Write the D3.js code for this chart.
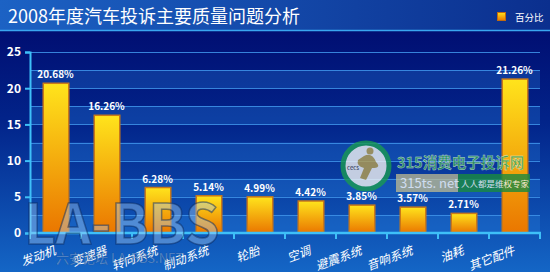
<!DOCTYPE html>
<html lang="zh">
<head>
    <meta charset="UTF-8">
    <title>2008年度汽车投诉主要质量问题分析</title>
    <script src="https://d3js.org/d3.v7.min.js"></script>
    <style>
        html, body { margin: 0; padding: 0; background: #0a3aa0; }
        svg { display: block; }
        text { font-family: "Noto Sans CJK SC", "DejaVu Sans", sans-serif; }
    </style>
</head>
<body>
<svg id="chart"></svg>
<script>
    // data
    const categories = ["发动机", "变速器", "转向系统", "制动系统", "轮胎", "空调",
        "避震系统", "音响系统", "油耗", "其它配件"];
    const percents = [20.68, 16.26, 6.28, 5.14, 4.99, 4.42, 3.85, 3.57, 2.71, 21.26];
    const yTicks = [0, 5, 10, 15, 20, 25];
    const title = "2008年度汽车投诉主要质量问题分析";
    const legendLabel = "百分比";

    const width = 550, height = 272;
    const svg = d3.select("#chart").attr("width", width).attr("height", height);
    const defs = svg.append("defs");

    // background gradient
    const bg = defs.append("linearGradient").attr("id", "bg")
        .attr("x1", 0).attr("y1", 0).attr("x2", 0).attr("y2", 1);
    bg.append("stop").attr("offset", "0%").attr("stop-color", "#00076a");
    bg.append("stop").attr("offset", "45%").attr("stop-color", "#02248a");
    bg.append("stop").attr("offset", "100%").attr("stop-color", "#1466c6");

    const head = defs.append("linearGradient").attr("id", "head")
        .attr("x1", 0).attr("y1", 0).attr("x2", 1).attr("y2", 0);
    head.append("stop").attr("offset", "0%").attr("stop-color", "#1c62c4");
    head.append("stop").attr("offset", "100%").attr("stop-color", "#0b2f8e");

    const barGrad = defs.append("linearGradient").attr("id", "bar")
        .attr("x1", 0).attr("y1", 0).attr("x2", 0).attr("y2", 1);
    barGrad.append("stop").attr("offset", "0%").attr("stop-color", "#ffe41c");
    barGrad.append("stop").attr("offset", "100%").attr("stop-color", "#ea7600");

    svg.append("rect").attr("width", width).attr("height", height).attr("fill", "url(#bg)");
    svg.append("rect").attr("width", width).attr("height", 30).attr("fill", "url(#head)");
    svg.append("line").attr("x1", 0).attr("x2", width).attr("y1", 30.5).attr("y2", 30.5)
        .attr("stroke", "#3aa6f0").attr("stroke-width", 1.5);

    svg.append("text").attr("x", 8).attr("y", 23)
        .attr("fill", "#fff").attr("font-size", 18).text(title);

    // legend
    svg.append("rect").attr("x", 497.5).attr("y", 12.5).attr("width", 8).attr("height", 8)
        .attr("fill", "url(#bar)").attr("stroke", "#c06a10");
    svg.append("text").attr("x", 515).attr("y", 20.5)
        .attr("fill", "#fff").attr("font-size", 9.5).text(legendLabel);

    // scales
    const x = d3.scaleBand().domain(categories).range([30, 540]).paddingInner(0.5).paddingOuter(0.25);
    const xb = d3.scaleBand().domain(categories).range([30, 540]);
    const y = d3.scaleLinear().domain([0, 25]).range([233, 52]);

    // alternating bands
    const bandSteps = d3.range(0, 25, 2.5);
    svg.append("g").selectAll("rect").data(bandSteps.filter((d, i) => i % 2 === 0)).join("rect")
        .attr("x", 31).attr("width", 509)
        .attr("y", d => y(d + 2.5)).attr("height", d => y(d) - y(d + 2.5))
        .attr("fill", "#2a8ae6").attr("opacity", 0.28);

    // gridlines
    svg.append("g").selectAll("line").data(d3.range(2.5, 25.1, 2.5)).join("line")
        .attr("x1", 31).attr("x2", 540)
        .attr("y1", d => Math.round(y(d)) + 0.5).attr("y2", d => Math.round(y(d)) + 0.5)
        .attr("stroke", "#3c8fe6").attr("stroke-width", 1).attr("opacity", 0.9);

    // bars
    svg.append("g").selectAll("rect").data(percents).join("rect")
        .attr("x", (d, i) => x(categories[i]) + 0.5)
        .attr("y", d => y(d))
        .attr("width", x.bandwidth())
        .attr("height", d => y(0) - y(d))
        .attr("fill", "url(#bar)")
        .attr("stroke", "#c8781a").attr("stroke-width", 1.5);

    svg.append("g").selectAll("text").data(percents).join("text")
        .attr("x", (d, i) => x(categories[i]) + x.bandwidth() / 2)
        .attr("y", d => y(d) - 5)
        .attr("text-anchor", "middle")
        .attr("fill", "#fff").attr("font-size", 10).attr("font-weight", "bold")
        .attr("font-family", "Liberation Sans, Arial, sans-serif")
        .text(d => d.toFixed(2) + "%");

    // y axis
    const yAxis = svg.append("g").attr("transform", "translate(30,0)")
        .call(d3.axisLeft(y).tickValues(yTicks).tickSize(5).tickPadding(4));
    yAxis.select(".domain").attr("stroke", "#3ec0f8").attr("stroke-width", 2);
    yAxis.selectAll(".tick line").attr("stroke", "#3ec0f8").attr("stroke-width", 2);
    yAxis.selectAll(".tick text").attr("fill", "#fff").attr("font-size", 12)
        .attr("font-weight", "bold").attr("font-family", "Liberation Sans, Arial, sans-serif");

    // x axis
    const xAxis = svg.append("g").attr("transform", "translate(0,233)");
    xAxis.append("line").attr("x1", 29).attr("x2", 541).attr("y1", 0).attr("y2", 0)
        .attr("stroke", "#3ec0f8").attr("stroke-width", 2.5);
    xAxis.selectAll(".xt").data(categories.concat(["end"])).join("line").attr("class", "xt")
        .attr("x1", (d, i) => 30 + i * xb.step()).attr("x2", (d, i) => 30 + i * xb.step())
        .attr("y1", 0).attr("y2", 6)
        .attr("stroke", "#3ec0f8").attr("stroke-width", 2);
    xAxis.selectAll(".xl").data(categories).join("text").attr("class", "xl")
        .attr("transform", d => `translate(${xb(d) + xb.bandwidth() / 2 + 1},21) rotate(-20)`)
        .attr("text-anchor", "end")
        .attr("fill", "#fff").attr("font-size", 12).attr("font-style", "italic")
        .text(d => d);

    // watermarks
    const wm = svg.append("g");
    wm.append("text").attr("x", 24).attr("y", 244)
        .attr("font-size", 55).attr("font-weight", "bold")
        .attr("font-family", "DejaVu Sans, sans-serif")
        .attr("fill", "#a8d0f4").attr("fill-opacity", 0.4)
        .attr("stroke", "#0a2a60").attr("stroke-opacity", 0.5).attr("stroke-width", 1.5)
        .text("LA-BBS");
    wm.append("text").attr("x", 56).attr("y", 263)
        .attr("font-size", 13)
        .attr("fill", "#dbe8f8").attr("fill-opacity", 0.4)
        .attr("stroke", "#0a2a60").attr("stroke-opacity", 0.3).attr("stroke-width", 0.6)
        .text("六安论坛 LA-BBS.NET");

    const logo = svg.append("g").attr("opacity", 0.8);
    logo.append("circle").attr("cx", 366).attr("cy", 166).attr("r", 23)
        .attr("fill", "#f2f2f2").attr("stroke", "#1a9a52").attr("stroke-width", 5);
    logo.append("path").attr("d", "M364 156 q8 -4 12 6 q6 6 -4 6 l-6 12 l-6 -2 l4 -10 q-8 -2 -6 -8 z")
        .attr("fill", "#b8a050");
    logo.append("circle").attr("cx", 370).attr("cy", 151).attr("r", 3.5).attr("fill", "#b8a050");
    logo.append("text").attr("x", 347).attr("y", 170).attr("font-size", 6).attr("fill", "#334")
        .attr("font-family", "DejaVu Sans, sans-serif").text("cecs");
    logo.append("text").attr("x", 397).attr("y", 168)
        .attr("font-size", 14.5).attr("font-weight", "bold").attr("fill", "#2aa050")
        .attr("stroke", "#e8f4e0").attr("stroke-width", 0.4)
        .text("315消费电子投诉网");
    logo.append("rect").attr("x", 396).attr("y", 174).attr("width", 134).attr("height", 18)
        .attr("fill", "#c8c090").attr("opacity", 0.9);
    logo.append("rect").attr("x", 458).attr("y", 174).attr("width", 72).attr("height", 18)
        .attr("fill", "#1a8a40");
    logo.append("text").attr("x", 400).attr("y", 188).attr("font-size", 13)
        .attr("font-family", "DejaVu Sans, sans-serif").attr("fill", "#fff").text("315ts. net");
    logo.append("text").attr("x", 461).attr("y", 187).attr("font-size", 8.5)
        .attr("font-family", "Noto Serif CJK SC, Noto Sans CJK SC, serif").attr("fill", "#fff").text("人人都是维权专家");
</script>
</body>
</html>
